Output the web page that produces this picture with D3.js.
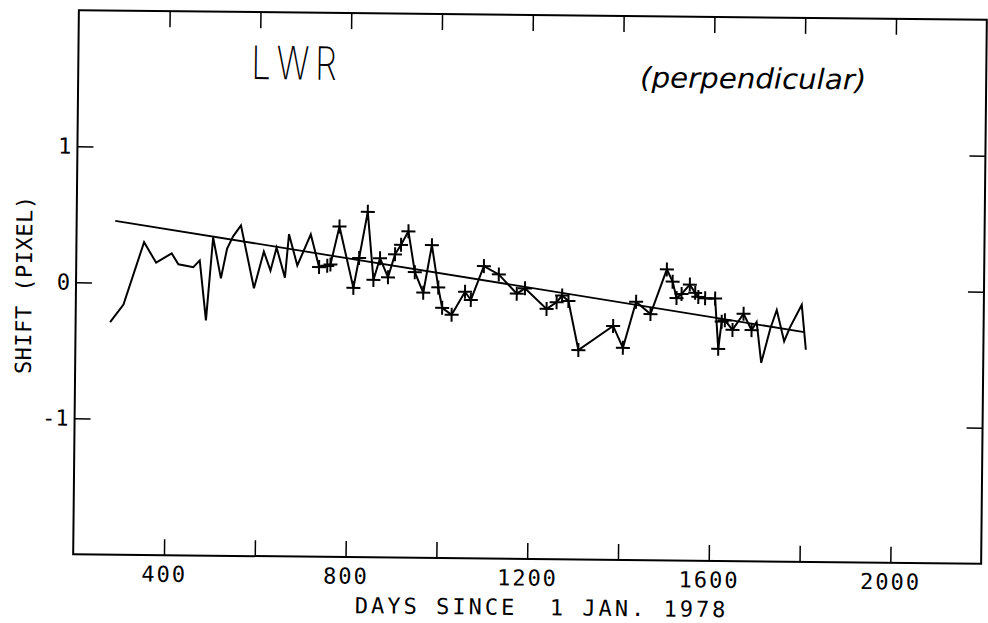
<!DOCTYPE html>
<html lang="en">
<head>
<meta charset="UTF-8">
<title>LWR shift (perpendicular)</title>
<style>
  body { margin: 0; background: #fff; }
  svg { display: block; }
  .frame { fill: none; stroke: #000; stroke-width: 2; }
  .tick line { stroke: #000; stroke-width: 1.5; }
  .tick text { font-family: "DejaVu Sans Mono", monospace; font-size: 22px; fill: #000; }
  .series { fill: none; stroke: #000; stroke-width: 2; stroke-linejoin: miter; }
  .trend { fill: none; stroke: #000; stroke-width: 1.8; }
  .mark { stroke: #000; stroke-width: 2; }
</style>
</head>
<body>
<script src="https://cdn.jsdelivr.net/npm/d3@7"></script>
<script>
// days since 1 Jan 1978 and the measured shift in pixels
const days = [276, 305, 349, 376, 410, 425, 442, 458, 472, 487, 501, 519, 532, 545, 562,
  592, 613, 628, 641, 660, 668, 687, 716, 735, 753, 760, 779, 811, 823, 841,
  855, 869, 887, 902, 915, 931, 946, 965, 983, 998, 1007, 1028, 1057, 1070, 1098,
  1131, 1171, 1189, 1237, 1259, 1271, 1285, 1308, 1384, 1406, 1434, 1466, 1501, 1514, 1523,
  1534, 1552, 1564, 1571, 1586, 1608, 1616, 1623, 1630, 1647, 1671, 1689, 1700, 1711, 1730,
  1744, 1761, 1773, 1799, 1809];
const shift = [-0.29, -0.16, 0.30, 0.15, 0.22, 0.14, 0.13, 0.12, 0.17, -0.27, 0.34, 0.04, 0.26, 0.35, 0.43,
  -0.03, 0.24, 0.10, 0.27, 0.05, 0.37, 0.14, 0.37, 0.13, 0.14, 0.15, 0.43, -0.02, 0.20, 0.54,
  0.04, 0.20, 0.06, 0.23, 0.30, 0.40, 0.10, -0.05, 0.30, -0.01, -0.16, -0.21, -0.04, -0.10, 0.15,
  0.09, -0.05, -0.01, -0.16, -0.11, -0.06, -0.10, -0.46, -0.28, -0.44, -0.10, -0.19, 0.14, 0.05, -0.07,
  -0.04, 0.03, -0.03, -0.06, -0.07, -0.07, -0.44, -0.24, -0.23, -0.30, -0.18, -0.30, -0.24, -0.54, -0.29,
  -0.15, -0.38, -0.28, -0.11, -0.44];
// 1 = point drawn with a "+"
const marked = [0, 0, 0, 0, 0, 0, 0, 0, 0, 0, 0, 0, 0, 0, 0,
  0, 0, 0, 0, 0, 0, 0, 0, 1, 1, 1, 1, 1, 1, 1,
  1, 1, 1, 1, 1, 1, 1, 1, 1, 1, 1, 1, 1, 1, 1,
  1, 1, 1, 1, 1, 1, 1, 1, 1, 1, 1, 1, 1, 1, 1,
  1, 1, 1, 1, 1, 1, 1, 1, 1, 1, 1, 1, 0, 0, 0,
  0, 0, 0, 0, 0];

// fitted straight line
const trendDays = [285, 1805];
const trendShift = [0.455, -0.31];

const xTickValues = [400, 600, 800, 1000, 1200, 1400, 1600, 1800, 2000];
const xLabelValues = [400, 800, 1200, 1600, 2000];
const yTickValues = [-1, 0, 1];
const yTickLabels = ["-1", "0", "1"];

const W = 988, H = 623;
const box = { left: 76, right: 984, top: 15, bottom: 559 };

const svg = d3.select("body").append("svg")
  .attr("width", W)
  .attr("height", H);

// the original is a slightly tilted scan
const g = svg.append("g")
  .attr("transform", "rotate(0.6, 530, 287)");

const x = d3.scaleLinear().domain([200, 2200]).range([box.left, box.right]);
const y = d3.scaleLinear().domain([-2, 2]).range([box.bottom, box.top]);

g.append("rect")
  .attr("class", "frame")
  .attr("x", box.left)
  .attr("y", box.top)
  .attr("width", box.right - box.left)
  .attr("height", box.bottom - box.top);

// bottom axis with labels every 400 days
const xAxis = g.append("g")
  .attr("transform", `translate(0,${box.bottom})`)
  .call(d3.axisBottom(x)
    .tickValues(xTickValues)
    .tickSize(-16)
    .tickPadding(11)
    .tickFormat(d => xLabelValues.includes(d) ? d : ""));
xAxis.select(".domain").remove();
xAxis.attr("font-family", null).attr("font-size", null);
xAxis.selectAll("text").style("letter-spacing", "2px");

const xTop = g.append("g")
  .attr("transform", `translate(0,${box.top})`)
  .call(d3.axisTop(x).tickValues(xTickValues).tickSize(-16).tickFormat(""));
xTop.select(".domain").remove();

const yAxis = g.append("g")
  .attr("transform", `translate(${box.left},0)`)
  .call(d3.axisLeft(y)
    .tickValues(yTickValues)
    .tickSize(-16)
    .tickPadding(6)
    .tickFormat((d, i) => yTickLabels[i]));
yAxis.select(".domain").remove();
yAxis.attr("font-family", null).attr("font-size", null);

const yRight = g.append("g")
  .attr("transform", `translate(${box.right},0)`)
  .call(d3.axisRight(y).tickValues(yTickValues).tickSize(-16).tickFormat(""));
yRight.select(".domain").remove();

// data
const pts = days.map((d, i) => ({ day: d, v: shift[i], m: marked[i] }));

const line = d3.line()
  .x(d => x(d.day))
  .y(d => y(d.v));

g.append("path")
  .datum(pts)
  .attr("class", "series")
  .attr("d", line);

g.append("path")
  .datum(trendDays.map((d, i) => ({ day: d, v: trendShift[i] })))
  .attr("class", "trend")
  .attr("d", line);

const arm = 7;
const plus = g.selectAll(".plus")
  .data(pts.filter(d => d.m))
  .enter().append("g")
  .attr("class", "plus")
  .attr("transform", d => `translate(${x(d.day)},${y(d.v)})`);
plus.append("line").attr("class", "mark").attr("x1", -arm).attr("x2", arm);
plus.append("line").attr("class", "mark").attr("y1", -arm).attr("y2", arm);

// titles
g.append("text")
  .attr("x", 545)
  .attr("y", 615)
  .attr("text-anchor", "middle")
  .style("font-family", "'DejaVu Sans Mono', monospace")
  .style("font-size", "22px")
  .style("letter-spacing", "3px")
  .style("white-space", "pre")
  .text("DAYS SINCE  1 JAN. 1978");

g.append("text")
  .attr("transform", "translate(24,290) rotate(-90)")
  .attr("text-anchor", "middle")
  .attr("dy", "0.35em")
  .style("font-family", "'DejaVu Sans Mono', monospace")
  .style("font-size", "22px")
  .style("letter-spacing", "0.5px")
  .text("SHIFT (PIXEL)");

// plotter lettering: narrow, thin and widely spaced
g.append("text")
  .attr("transform", "translate(249,82) scale(0.75,1)")
  .attr("textLength", 114)
  .attr("lengthAdjust", "spacing")
  .style("font-family", "Inter, Roboto, 'Open Sans', sans-serif")
  .style("font-weight", 200)
  .style("font-size", "46px")
  .text("LWR");

g.append("text")
  .attr("x", 638)
  .attr("y", 86)
  .attr("textLength", 226)
  .attr("lengthAdjust", "spacingAndGlyphs")
  .style("font-family", "'DejaVu Sans', sans-serif")
  .style("font-style", "italic")
  .style("font-size", "28px")
  .text("(perpendicular)");
</script>
</body>
</html>
